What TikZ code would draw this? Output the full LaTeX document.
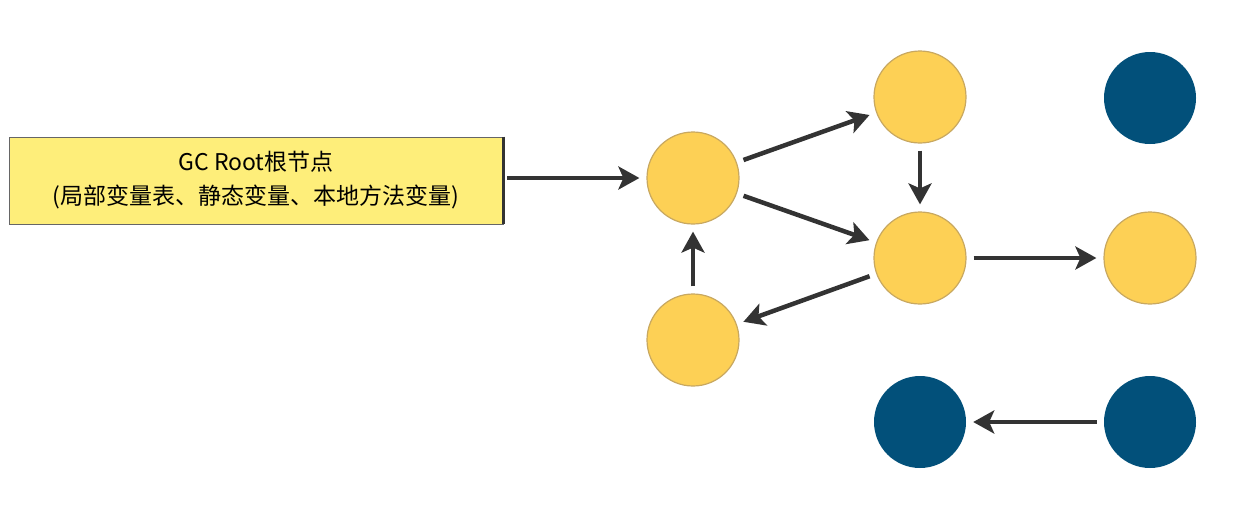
\documentclass[tikz,border=0pt]{standalone}
\usepackage{fontspec}
\setmainfont{Noto Sans CJK SC}
\usetikzlibrary{arrows.meta}
\definecolor{ylw}{HTML}{FDD055}
\definecolor{ylwb}{HTML}{C8A860}
\definecolor{navy}{HTML}{02507A}
\definecolor{boxy}{HTML}{FEEE7A}
\definecolor{arr}{HTML}{333333}
\begin{document}
\begin{tikzpicture}[x=1pt,y=-1pt,
  yc/.style={circle,minimum size=92pt,inner sep=0pt,fill=ylw,draw=ylwb,line width=1.2pt},
  nc/.style={circle,minimum size=92pt,inner sep=0pt,fill=navy},
  conn/.style={draw=arr,line width=4.5pt,-{Stealth[length=21pt,width=23pt,inset=5pt]},shorten >=7pt,shorten <=7pt}]
\useasboundingbox (0,0) rectangle (1248,523);
\node[draw=gray!80!black,line width=0.8pt,fill=boxy,minimum width=494pt,minimum height=87pt,inner sep=0pt,align=center,font=\fontsize{23}{34}\selectfont] (root) at (256,180.5) {GC Root根节点\\(局部变量表、静态变量、本地方法变量)};
\draw[arr,line width=2.5pt] (root.north east) -- (root.south east);
\node[yc] (a) at (693,178) {};
\node[yc] (b) at (920,97) {};
\node[yc] (c) at (920,258) {};
\node[yc] (d) at (1150,258) {};
\node[yc] (e) at (693,340) {};
\node[nc] (f) at (1150,98) {};
\node[nc] (g) at (920,422) {};
\node[nc] (h) at (1150,422) {};
\draw[conn,shorten <=4pt] (root.east |- a) -- (a);
\draw[conn] (a) -- (b);
\draw[conn] (b) -- (c);
\draw[conn] (a) -- (c);
\draw[conn] (c) -- (e);
\draw[conn] (e) -- (a);
\draw[conn] (c) -- (d);
\draw[conn] (h) -- (g);
\end{tikzpicture}
\end{document}
